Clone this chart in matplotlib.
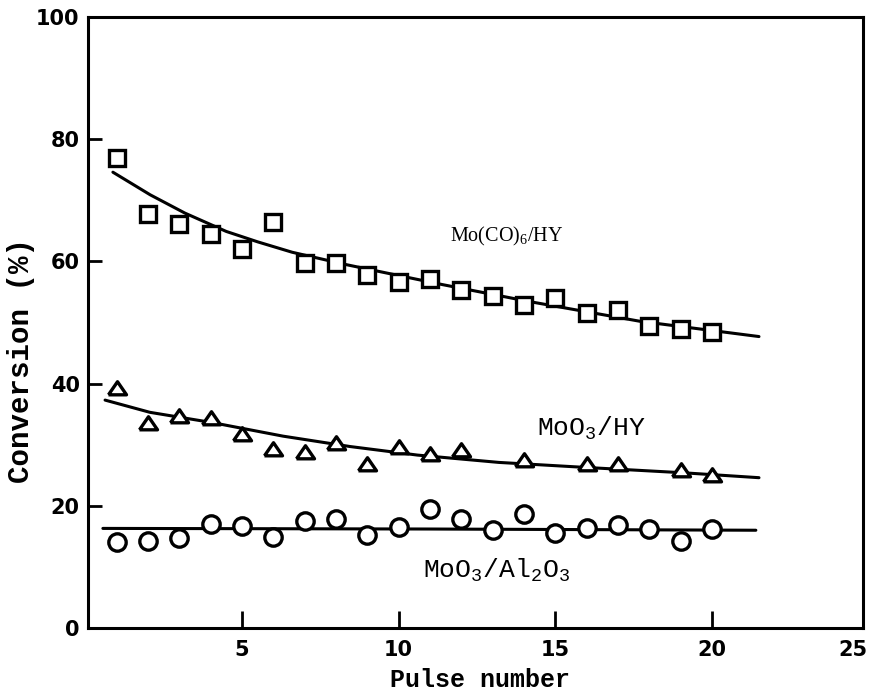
import matplotlib
matplotlib.use("Agg")
import matplotlib.pyplot as plt

# =========================
# DATA
# =========================
pulse_sq = [1, 2, 3, 4, 5, 6, 7, 8, 9, 10, 11, 12, 13, 14, 15, 16, 17, 18, 19, 20]
conv_sq = [77.0, 67.7, 66.1, 64.5, 62.0, 66.4, 59.8, 59.8, 57.7, 56.6,
           57.2, 55.4, 54.3, 52.8, 54.0, 51.6, 52.0, 49.5, 49.0, 48.5]

pulse_tri = [1, 2, 3, 4, 5, 6, 7, 8, 9, 10, 11, 12, 14, 16, 17, 19, 20]
conv_tri = [39.3, 33.6, 34.7, 34.4, 31.7, 29.3, 28.8, 30.2, 26.8, 29.7,
            28.5, 29.2, 27.5, 26.8, 26.8, 25.8, 25.1]

pulse_circ = [1, 2, 3, 4, 5, 6, 7, 8, 9, 10, 11, 12, 13, 14, 15, 16, 17, 18, 19, 20]
conv_circ = [14.1, 14.3, 14.8, 17.1, 16.7, 14.9, 17.5, 17.8, 15.2, 16.5,
             19.5, 17.8, 16.0, 18.7, 15.6, 16.3, 16.8, 16.2, 14.3, 16.2]

# fitted curves as drawn in the figure
fit_sq_x = [0.88, 2.07, 3.18, 4.5, 5.5, 6.6, 8.3, 11.4, 14.2, 17.7, 21.5]
fit_sq_y = [74.6, 70.9, 67.9, 64.9, 63.2, 61.5, 59.5, 56.2, 53.4, 50.2, 47.7]

fit_tri_x = [0.63, 2.06, 4.07, 6.31, 8.45, 10.6, 13.2, 15.9, 19.1, 21.5]
fit_tri_y = [37.3, 35.3, 33.6, 31.4, 29.7, 28.3, 27.1, 26.3, 25.4, 24.6]

fit_circ_x = [0.56, 11.0, 21.4]
fit_circ_y = [16.3, 16.2, 16.0]

xticks = [5, 10, 15, 20, 24.5]
xtick_labels = ["5", "10", "15", "20", "25"]
yticks = [0, 20, 40, 60, 80, 100]

# =========================
# PLOT
# =========================
fig = plt.figure(figsize=(8.72, 6.99), dpi=100)
ax = fig.add_axes([88 / 872, 71 / 699, 775 / 872, 611 / 699])

lw = 2.2
ax.plot(fit_sq_x, fit_sq_y, color="black", lw=lw, solid_capstyle="round")
ax.plot(fit_tri_x, fit_tri_y, color="black", lw=lw, solid_capstyle="round")
ax.plot(fit_circ_x, fit_circ_y, color="black", lw=lw, solid_capstyle="round")

tri = [(-1, -0.7), (1, -0.7), (0, 0.75), (-1, -0.7)]
ax.plot(pulse_sq, conv_sq, ls="none", marker="s", ms=12, mew=2.4,
        mfc="white", mec="black")
ax.plot(pulse_tri, conv_tri, ls="none", marker=tri, ms=13, mew=2.4,
        mfc="white", mec="black")
ax.plot(pulse_circ, conv_circ, ls="none", marker="o", ms=12.5, mew=2.4,
        mfc="white", mec="black")

# labels on curves
ax.text(11.64, 63.2, r"Mo(CO)$\mathregular{_6}$/HY", family="Liberation Serif",
        fontsize=14.5, ha="left", va="baseline")
ax.text(14.4, 31.4, r"MoO$\mathregular{_3}$/HY", family="Liberation Mono",
        fontsize=19, ha="left", va="baseline")
ax.text(10.78, 8.2, r"MoO$\mathregular{_3}$/Al$\mathregular{_2}$O$\mathregular{_3}$",
        family="Liberation Mono", fontsize=19, ha="left", va="baseline")

# axes
ax.set_xlim(0.085, 24.82)
ax.set_ylim(0, 100)
ax.set_xticks(xticks)
ax.set_xticklabels(xtick_labels)
ax.set_yticks(yticks)
ax.xaxis.get_major_ticks()[-1].tick1line.set_visible(False)

for side in ["left", "right", "top", "bottom"]:
    ax.spines[side].set_linewidth(2.2)

ax.tick_params(axis="x", direction="in", length=12, width=2, pad=9,
               labelsize=15)
ax.tick_params(axis="y", direction="in", length=10, width=2, pad=6,
               labelsize=15)
for lab in ax.get_xticklabels() + ax.get_yticklabels():
    lab.set_fontweight("bold")

ax.set_xlabel("Pulse number", family="Liberation Mono", fontweight="bold",
              fontsize=18)
ax.set_ylabel("Conversion (%)", family="Liberation Mono", fontweight="bold",
              fontsize=21)
ax.xaxis.set_label_coords(0.506, -0.066)
ax.yaxis.set_label_coords(-0.068, 0.437)

fig.savefig("out.png", dpi=100)
